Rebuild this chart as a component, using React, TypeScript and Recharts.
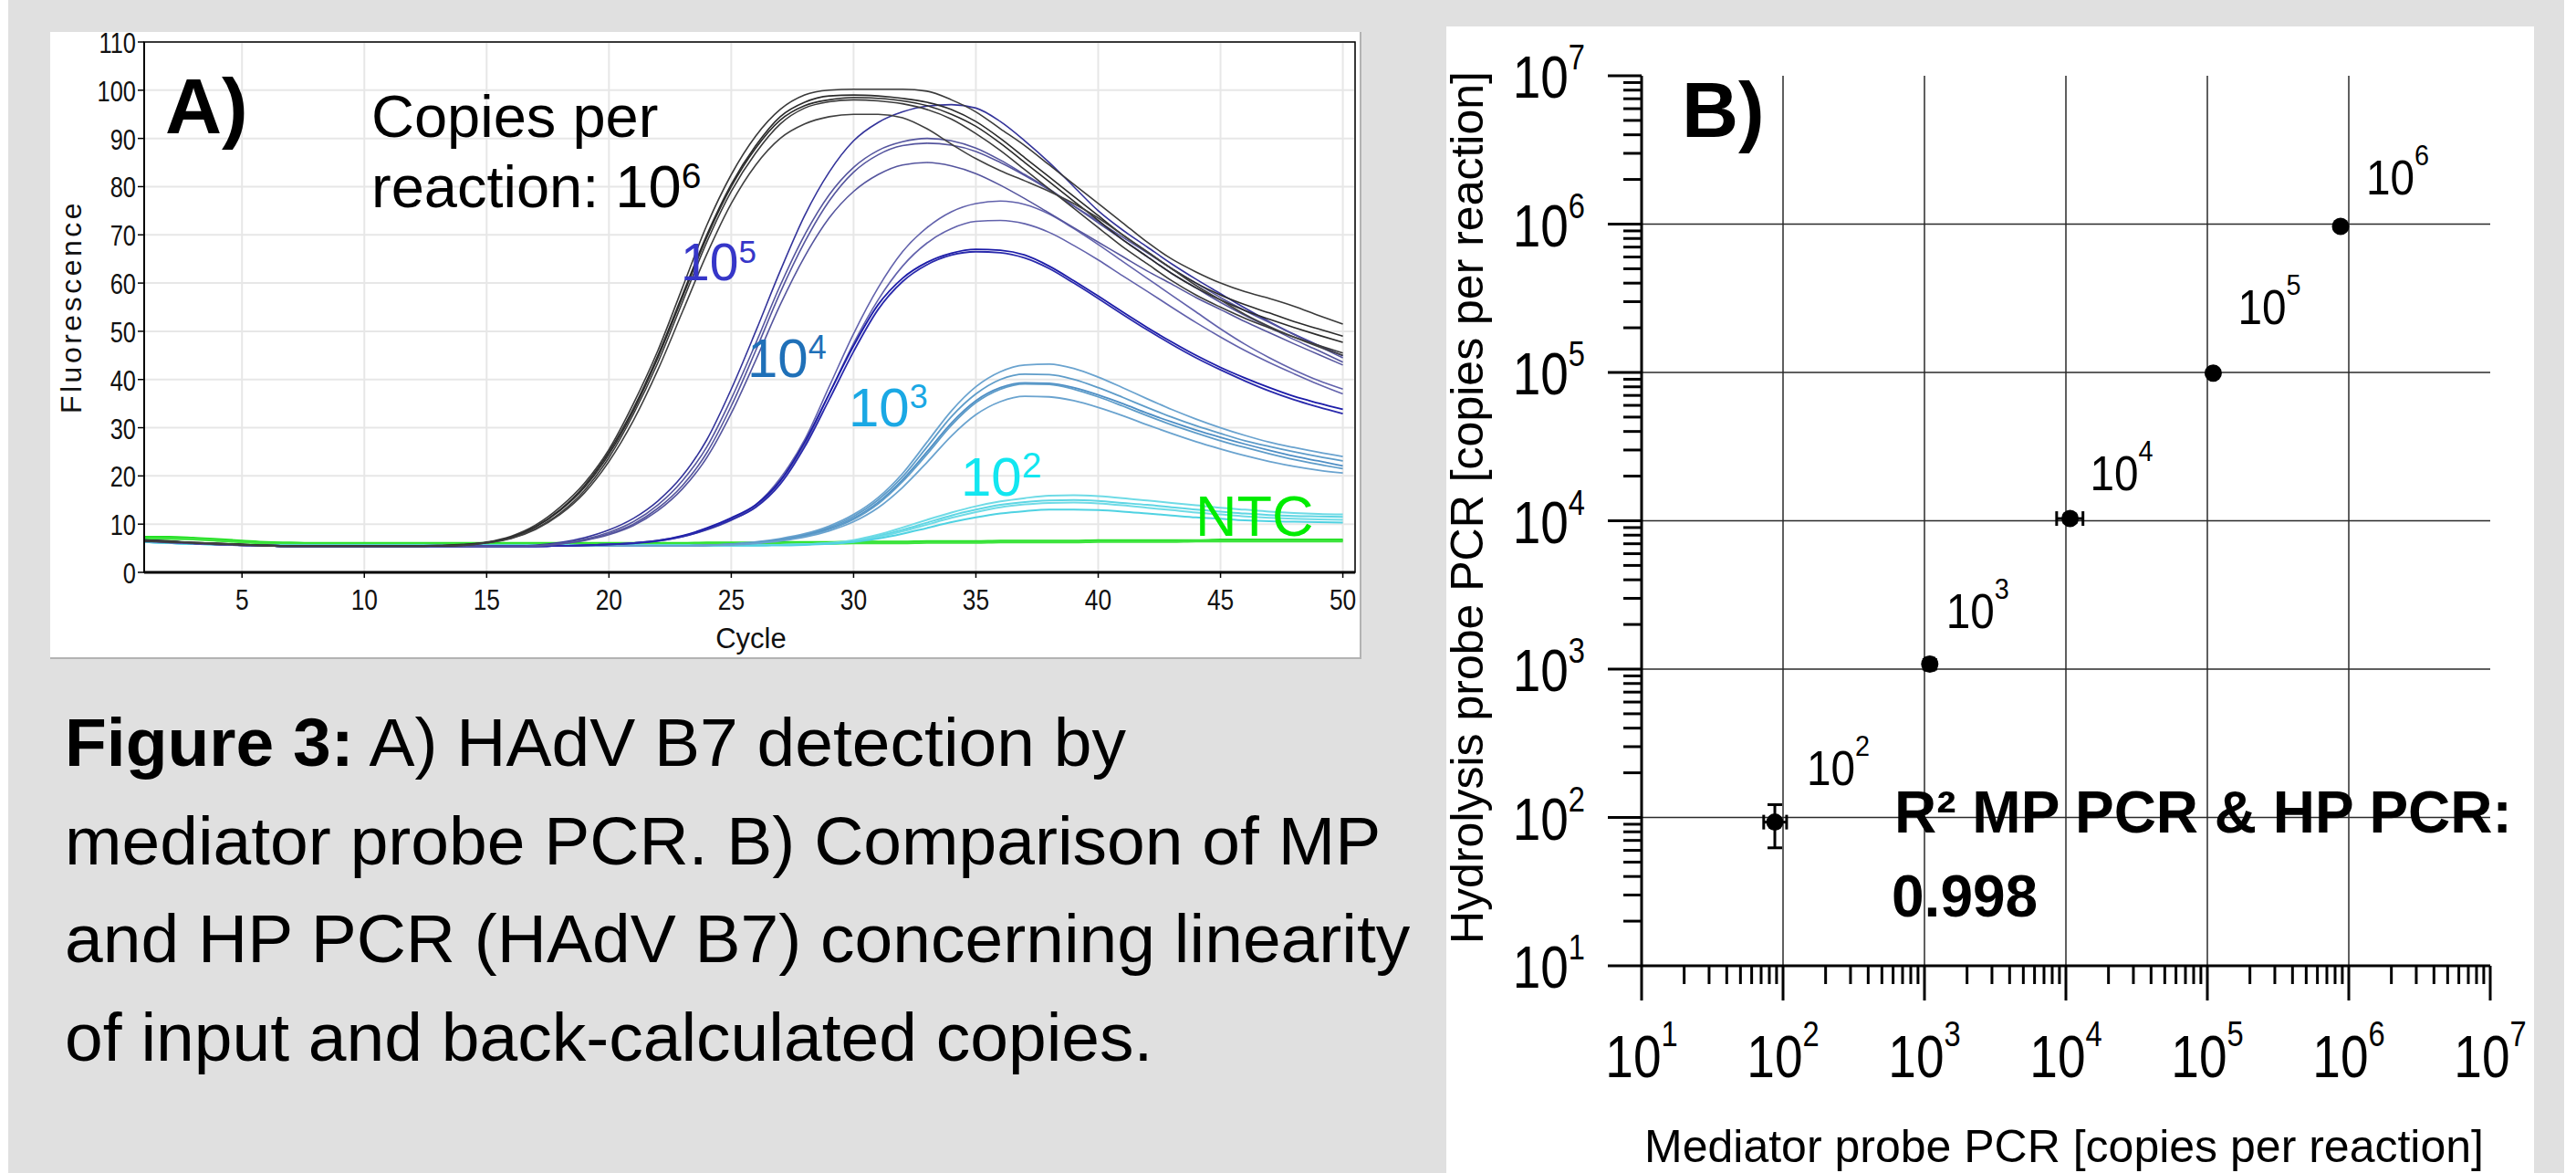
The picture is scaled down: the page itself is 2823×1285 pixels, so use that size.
import React from "react";
import {
  LineChart,
  Line,
  XAxis,
  YAxis,
  CartesianGrid,
  ReferenceArea,
  ScatterChart,
  Scatter,
  ErrorBar,
  ReferenceLine,
} from "recharts";

const FONT = "'Liberation Sans', Arial, Helvetica, sans-serif";

// #region Panel A – amplification curves (fluorescence per cycle)
const cycles = [
  1, 2, 3, 4, 5, 6, 7, 8, 9, 10, 11, 12, 13, 14, 15, 16, 17, 18, 19, 20, 21, 22, 23, 24, 25,
  26, 27, 28, 29, 30, 31, 32, 33, 34, 35, 36, 37, 38, 39, 40, 41, 42, 43, 44, 45, 46, 47, 48,
  49, 50,
];
const cycleTicks = [5, 10, 15, 20, 25, 30, 35, 40, 45, 50];
const fluoTicks = [0, 10, 20, 30, 40, 50, 60, 70, 80, 90, 100, 110];

// 10^6 copies
const e6a = [6.6, 6.4, 6.2, 6.0, 5.8, 5.6, 5.5, 5.5, 5.5, 5.5, 5.5, 5.5, 5.6, 5.8, 6.3, 7.5, 9.8, 13.5, 18.5, 25.5, 35, 46, 59, 72, 82.5, 90.5, 96, 99, 100, 100.2, 100.2, 100.2, 99.8, 98, 95.5, 92, 88.5, 84.5, 80.5, 76.5, 72.5, 68.5, 65, 62.3, 60, 58.2, 56.8, 55.2, 53.3, 51.5];
const e6b = [6.5, 6.3, 6.1, 5.9, 5.7, 5.5, 5.4, 5.4, 5.4, 5.4, 5.4, 5.4, 5.5, 5.7, 6.2, 7.3, 9.5, 13, 18, 25, 34, 45, 57.5, 70, 80.5, 88.5, 94.5, 97.5, 98.8, 99, 98.8, 98.3, 97.5, 96, 93.5, 90, 86, 82, 78, 74, 70, 66.5, 63, 60, 57.5, 55.5, 53.8, 52, 50.5, 49];
const e6c = [6.7, 6.5, 6.2, 6.0, 5.8, 5.6, 5.5, 5.5, 5.5, 5.5, 5.5, 5.5, 5.5, 5.7, 6.2, 7.3, 9.4, 12.8, 17.6, 24.5, 33.5, 44.5, 57, 69.5, 80, 88, 93.8, 96.8, 98, 98.5, 98.3, 97.8, 96.8, 95, 92.5, 89, 85, 81, 77, 73, 69, 65.5, 62, 59, 56.5, 54.3, 52.5, 50.8, 49.2, 47.7];
const e6d = [6.6, 6.4, 6.2, 6.0, 5.8, 5.6, 5.5, 5.5, 5.5, 5.5, 5.5, 5.5, 5.5, 5.6, 6.1, 7.1, 9.1, 12.3, 17, 23.8, 32.8, 43.5, 56, 68.5, 79, 87, 93, 96.3, 97.6, 98, 97.8, 97.2, 96, 94, 91, 87.5, 83.5, 79.5, 75.5, 71.5, 67.5, 64, 60.5, 57.5, 55, 52.7, 50.7, 48.8, 47.1, 45.5];
const e6e = [6.5, 6.3, 6.1, 5.9, 5.7, 5.5, 5.4, 5.4, 5.4, 5.4, 5.4, 5.4, 5.5, 5.6, 6.1, 7, 8.9, 12, 16.5, 23, 31.5, 42, 54, 66, 76.5, 84.5, 90, 93, 94.5, 95, 95, 94.3, 92, 88.8, 85.8, 83.3, 81.2, 79, 76.5, 73.5, 70, 66.5, 63, 59.5, 56.5, 53.5, 51, 48.8, 46.8, 45];

// 10^5 copies
const e5a = [6.7, 6.4, 6.1, 5.9, 5.7, 5.5, 5.4, 5.4, 5.4, 5.4, 5.4, 5.4, 5.4, 5.4, 5.4, 5.4, 5.6, 6.2, 7.2, 8.8, 11.2, 14.8, 20, 27.5, 38, 50, 62.5, 74, 83, 89.5, 93.3, 95.5, 96.7, 97, 96.3, 93.5, 89.5, 85, 80, 75, 71, 67.5, 64, 60.8, 57.8, 54.8, 52, 49.4, 47.1, 44.9];
const e5b = [6.6, 6.3, 6.0, 5.8, 5.6, 5.5, 5.4, 5.4, 5.4, 5.4, 5.4, 5.4, 5.4, 5.4, 5.4, 5.4, 5.5, 6, 6.9, 8.3, 10.5, 14, 19, 26, 36, 47.5, 59.5, 70, 78.3, 84, 87.5, 89.3, 90, 89.5, 88, 85.5, 82.5, 79.5, 76, 72.5, 69, 65.5, 62, 59, 56, 53.3, 50.8, 48.3, 46, 43.6];
const e5c = [6.5, 6.2, 6.0, 5.8, 5.6, 5.5, 5.4, 5.4, 5.4, 5.4, 5.4, 5.4, 5.4, 5.4, 5.4, 5.4, 5.5, 5.9, 6.7, 8, 10, 13.3, 18, 24.8, 34.5, 46, 58, 68.5, 77, 83, 86.6, 88.5, 89, 88.6, 87.3, 85, 82.3, 79.3, 76, 72.8, 69.5, 66.3, 63, 60, 57, 54.3, 51.8, 49.3, 46.9, 44.5];
const e5d = [6.6, 6.3, 6.1, 5.9, 5.7, 5.5, 5.4, 5.4, 5.4, 5.4, 5.4, 5.4, 5.4, 5.4, 5.4, 5.4, 5.5, 5.9, 6.6, 7.8, 9.7, 12.8, 17.3, 23.8, 33, 44, 55.5, 65.5, 73.5, 79, 82.5, 84.5, 85, 84.3, 82.7, 80.3, 77.5, 74.5, 71.5, 68.5, 65.5, 62.5, 59.8, 57, 54.5, 52, 49.7, 47.4, 45.2, 43];

// 10^4 copies
const e4a = [6.6, 6.3, 6.0, 5.8, 5.6, 5.5, 5.4, 5.4, 5.4, 5.4, 5.4, 5.4, 5.4, 5.4, 5.4, 5.4, 5.4, 5.5, 5.6, 5.8, 6.1, 6.6, 7.5, 9, 11, 14, 19.5, 27.5, 38.5, 49.5, 59, 66.5, 71.5, 74.8, 76.5, 77, 76.3, 74.3, 71.3, 68, 64.5, 61, 57.5, 54, 50.5, 47.3, 44.5, 42, 39.8, 38];
const e4b = [6.5, 6.2, 6.0, 5.8, 5.6, 5.5, 5.4, 5.4, 5.4, 5.4, 5.4, 5.4, 5.4, 5.4, 5.4, 5.4, 5.4, 5.5, 5.6, 5.8, 6.1, 6.5, 7.4, 8.8, 10.8, 13.6, 18.8, 26.5, 37, 47.5, 56.5, 63.5, 68.3, 71.3, 72.8, 73, 72.3, 70.5, 67.8, 64.8, 61.5, 58.3, 55, 51.8, 48.8, 46, 43.5, 41.2, 39, 37];
const e4c = [6.7, 6.4, 6.1, 5.9, 5.7, 5.5, 5.4, 5.4, 5.4, 5.4, 5.4, 5.4, 5.4, 5.4, 5.4, 5.4, 5.4, 5.5, 5.6, 5.8, 6.1, 6.6, 7.6, 9.2, 11.3, 14, 19, 27, 37, 47, 55.5, 61, 64.3, 66.2, 67, 66.8, 65.8, 63.5, 60.5, 57.3, 54, 50.8, 47.8, 45, 42.5, 40.3, 38.3, 36.5, 35.1, 33.8];
const e4d = [6.6, 6.3, 6.0, 5.8, 5.6, 5.5, 5.4, 5.4, 5.4, 5.4, 5.4, 5.4, 5.4, 5.4, 5.4, 5.4, 5.4, 5.5, 5.6, 5.8, 6.0, 6.5, 7.4, 8.9, 10.9, 13.5, 18.3, 26, 35.8, 45.8, 54.5, 60.3, 63.8, 65.8, 66.5, 66.3, 65.2, 63, 60, 56.8, 53.5, 50.3, 47.3, 44.5, 42, 39.7, 37.6, 35.8, 34.3, 32.9];

// 10^3 copies
const e3a = [6.5, 6.3, 6.1, 5.9, 5.7, 5.6, 5.5, 5.5, 5.5, 5.5, 5.5, 5.5, 5.5, 5.5, 5.5, 5.5, 5.5, 5.5, 5.5, 5.5, 5.5, 5.5, 5.5, 5.6, 5.9, 6.3, 7, 8, 9.6, 12, 15.5, 20.5, 27, 33.5, 38.5, 41.6, 43, 43.2, 42.3, 40.5, 38.3, 36, 33.8, 31.8, 30, 28.4, 27, 25.9, 24.9, 24];
const e3b = [6.5, 6.3, 6.1, 5.9, 5.7, 5.6, 5.5, 5.5, 5.5, 5.5, 5.5, 5.5, 5.5, 5.5, 5.5, 5.5, 5.5, 5.5, 5.5, 5.5, 5.5, 5.5, 5.5, 5.6, 5.8, 6.2, 6.8, 7.8, 9.3, 11.6, 15, 19.8, 26, 32.3, 37, 40, 41.1, 41, 40, 38.3, 36.3, 34.2, 32.2, 30.4, 28.8, 27.3, 26.1, 25, 24, 23.1];
const e3c = [6.4, 6.2, 6.0, 5.8, 5.7, 5.6, 5.5, 5.5, 5.5, 5.5, 5.5, 5.5, 5.5, 5.5, 5.5, 5.5, 5.5, 5.5, 5.5, 5.5, 5.5, 5.5, 5.5, 5.6, 5.8, 6.1, 6.7, 7.6, 9, 11.2, 14.5, 19.2, 25, 31, 35.6, 38.3, 39.3, 39.2, 38.3, 36.8, 35, 33, 31.2, 29.5, 28, 26.6, 25.3, 24.1, 23.1, 22.1];
const e3d = [6.4, 6.2, 6.0, 5.8, 5.7, 5.6, 5.5, 5.5, 5.5, 5.5, 5.5, 5.5, 5.5, 5.5, 5.5, 5.5, 5.5, 5.5, 5.5, 5.5, 5.5, 5.5, 5.5, 5.6, 5.8, 6.1, 6.6, 7.5, 8.9, 11, 14.2, 18.8, 24.5, 30.5, 35.2, 38, 39.1, 39, 38, 36.4, 34.5, 32.5, 30.6, 28.9, 27.3, 25.9, 24.6, 23.4, 22.4, 21.5];
const e3e = [6.4, 6.2, 6.0, 5.8, 5.7, 5.6, 5.5, 5.5, 5.5, 5.5, 5.5, 5.5, 5.5, 5.5, 5.5, 5.5, 5.5, 5.5, 5.5, 5.5, 5.5, 5.5, 5.5, 5.6, 5.7, 6, 6.5, 7.3, 8.6, 10.5, 13.4, 17.6, 22.8, 28.3, 32.7, 35.4, 36.5, 36.4, 35.6, 34.2, 32.5, 30.6, 28.8, 27.1, 25.6, 24.2, 23, 22, 21.2, 20.6];

// 10^2 copies
const e2a = [6.3, 6.1, 5.9, 5.8, 5.7, 5.6, 5.6, 5.6, 5.6, 5.6, 5.6, 5.6, 5.6, 5.6, 5.6, 5.6, 5.6, 5.6, 5.6, 5.6, 5.6, 5.6, 5.6, 5.6, 5.6, 5.6, 5.7, 5.8, 6.1, 6.7, 7.8, 9.3, 10.9, 12.4, 13.7, 14.7, 15.4, 15.9, 16, 15.8, 15.4, 14.9, 14.4, 13.9, 13.4, 13, 12.6, 12.3, 12.1, 12];
const e2b = [6.3, 6.1, 5.9, 5.8, 5.7, 5.6, 5.6, 5.6, 5.6, 5.6, 5.6, 5.6, 5.6, 5.6, 5.6, 5.6, 5.6, 5.6, 5.6, 5.6, 5.6, 5.6, 5.6, 5.6, 5.6, 5.6, 5.7, 5.8, 6.0, 6.5, 7.5, 8.8, 10.3, 11.8, 13, 14, 14.6, 14.9, 15, 14.8, 14.4, 14, 13.5, 13, 12.6, 12.2, 11.9, 11.7, 11.6, 11.5];
const e2c = [6.3, 6.1, 5.9, 5.8, 5.7, 5.6, 5.6, 5.6, 5.6, 5.6, 5.6, 5.6, 5.6, 5.6, 5.6, 5.6, 5.6, 5.6, 5.6, 5.6, 5.6, 5.6, 5.6, 5.6, 5.6, 5.6, 5.7, 5.8, 6.0, 6.4, 7.3, 8.5, 9.9, 11.3, 12.5, 13.5, 14.1, 14.4, 14.5, 14.3, 13.9, 13.4, 12.9, 12.4, 12, 11.6, 11.3, 11.1, 11, 10.9];
const e2d = [6.3, 6.1, 5.9, 5.8, 5.7, 5.6, 5.6, 5.6, 5.6, 5.6, 5.6, 5.6, 5.6, 5.6, 5.6, 5.6, 5.6, 5.6, 5.6, 5.6, 5.6, 5.6, 5.6, 5.6, 5.6, 5.6, 5.6, 5.7, 5.9, 6.3, 7, 8, 9.2, 10.4, 11.4, 12.2, 12.7, 13, 13, 12.9, 12.6, 12.2, 11.8, 11.4, 11.1, 10.8, 10.6, 10.5, 10.4, 10.3];

// no template control
const ntcA = [7.3, 7.3, 7.1, 6.8, 6.5, 6.2, 6.1, 6.0, 6.0, 6.0, 6.0, 6.0, 6.0, 6.0, 6.0, 6.0, 6.0, 6.0, 6.0, 6.0, 6.0, 6.0, 6.0, 6.1, 6.1, 6.1, 6.2, 6.2, 6.2, 6.3, 6.3, 6.3, 6.4, 6.4, 6.4, 6.5, 6.5, 6.5, 6.5, 6.6, 6.6, 6.6, 6.6, 6.6, 6.7, 6.7, 6.7, 6.7, 6.7, 6.7];
const ntcB = [7.0, 7.0, 6.9, 6.6, 6.3, 6.0, 5.9, 5.8, 5.8, 5.8, 5.8, 5.8, 5.8, 5.8, 5.8, 5.8, 5.8, 5.8, 5.8, 5.8, 5.8, 5.8, 5.8, 5.9, 5.9, 5.9, 6.0, 6.0, 6.0, 6.1, 6.1, 6.1, 6.2, 6.2, 6.2, 6.3, 6.3, 6.3, 6.3, 6.4, 6.4, 6.4, 6.4, 6.5, 6.5, 6.5, 6.5, 6.5, 6.5, 6.5];
// #endregion

const curvesA = [
  { id: "ntcA", values: ntcA, color: "#1ee01e", width: 3 },
  { id: "ntcB", values: ntcB, color: "#3fe43f", width: 3 },
  { id: "e2a", values: e2a, color: "#6fdbe6", width: 2 },
  { id: "e2b", values: e2b, color: "#5fd6e4", width: 2 },
  { id: "e2c", values: e2c, color: "#6fdbe6", width: 2 },
  { id: "e2d", values: e2d, color: "#4fd2e2", width: 2 },
  { id: "e3a", values: e3a, color: "#6aa3cf", width: 1.8 },
  { id: "e3b", values: e3b, color: "#5e9cc9", width: 1.8 },
  { id: "e3c", values: e3c, color: "#4f8fc5", width: 1.8 },
  { id: "e3d", values: e3d, color: "#5e9cc9", width: 1.8 },
  { id: "e3e", values: e3e, color: "#6aa3cf", width: 1.8 },
  { id: "e4a", values: e4a, color: "#6262ac", width: 1.6 },
  { id: "e4b", values: e4b, color: "#6262ac", width: 1.6 },
  { id: "e4c", values: e4c, color: "#1c1ca8", width: 1.8 },
  { id: "e4d", values: e4d, color: "#2a2aac", width: 1.8 },
  { id: "e5a", values: e5a, color: "#33339a", width: 1.6 },
  { id: "e5b", values: e5b, color: "#55559e", width: 1.6 },
  { id: "e5c", values: e5c, color: "#55559e", width: 1.6 },
  { id: "e5d", values: e5d, color: "#55559e", width: 1.6 },
  { id: "e6a", values: e6a, color: "#3a3a3a", width: 1.6 },
  { id: "e6b", values: e6b, color: "#2b2b2b", width: 1.6 },
  { id: "e6c", values: e6c, color: "#2b2b2b", width: 1.6 },
  { id: "e6d", values: e6d, color: "#3a3a3a", width: 1.6 },
  { id: "e6e", values: e6e, color: "#404040", width: 1.6 },
];

const toPoints = (vals: number[]) => cycles.map((c, i) => ({ c, v: vals[i] }));

// #region Panel B – MP PCR vs HP PCR (copies per reaction)
const expectedExp = ["2", "3", "4", "5", "6"];
const mpCopies = [87.5, 1090, 10700, 110000, 875000];
const hpCopies = [93, 1080, 10350, 99000, 966000];
const mpErr = [[14.5, 18.5], [80, 80], [2100, 2500], [5000, 5000], [45000, 45000]];
const hpErr = [[30.6, 29], [80, 80], [600, 600], [4000, 4000], [50000, 50000]];
const bMajorTicks = [10, 100, 1000, 10000, 100000, 1000000, 10000000];
const bGridValues = [100, 1000, 10000, 100000, 1000000];
// #endregion

const bMinorTicks = bMajorTicks.slice(0, -1).flatMap((d) => [2, 3, 4, 5, 6, 7, 8, 9].map((k) => d * k));
const bAllTicks = [...bMajorTicks, ...bMinorTicks].sort((a, b) => a - b);
const bData = expectedExp.map((exp, i) => ({
  exp,
  mp: mpCopies[i],
  hp: hpCopies[i],
  mpErr: mpErr[i],
  hpErr: hpErr[i],
}));

// label offsets (px) from each point
const bLabelOffset: Record<string, [number, number]> = {
  "2": [35, -41],
  "3": [18, -40],
  "4": [22, -31],
  "5": [27, -54],
  "6": [28, -35],
};

// chart A is drawn a little taller than its white box so no tick text touches the svg edge
const A_LIFT = 24;
// overlay of panel B reaches a little left of its box for the rotated title
const B_SHIFT = 30;

const ATickX = (p: any) => (
  <text
    transform={`translate(${p.x},${p.y + 35}) scale(0.85,1)`}
    textAnchor='middle'
    fontSize={31}
    fontFamily={FONT}
    fill='#111'
  >
    {p.payload.value}
  </text>
);

const ATickY = (p: any) => (
  <text
    transform={`translate(${p.x - 2},${p.y + 12}) scale(0.82,1)`}
    textAnchor='end'
    fontSize={31}
    fontFamily={FONT}
    fill='#111'
  >
    {p.payload.value}
  </text>
);

const expOf = (v: number) => String(Math.round(Math.log10(v)));

const BTickX = (p: any) => {
  const v = p.payload.value;
  const major = bMajorTicks.includes(v);
  return (
    <g>
      <line x1={p.x} x2={p.x} y1={p.y} y2={p.y + (major ? 38 : 20)} stroke='#000' strokeWidth={3} />
      {major && (
        <text
          transform={`translate(${p.x},${p.y + 122}) scale(0.86,1)`}
          textAnchor='middle'
          fontSize={64}
          fontFamily={FONT}
          fill='#000'
        >
          10
          <tspan dy={-34} fontSize={38}>
            {expOf(v)}
          </tspan>
        </text>
      )}
    </g>
  );
};

const BTickY = (p: any) => {
  const v = p.payload.value;
  const major = bMajorTicks.includes(v);
  return (
    <g>
      <line x1={p.x} x2={p.x - (major ? 37 : 20)} y1={p.y} y2={p.y} stroke='#000' strokeWidth={3} />
      {major && (
        <text
          transform={`translate(${p.x - 62},${p.y + 24}) scale(0.86,1)`}
          textAnchor='end'
          fontSize={64}
          fontFamily={FONT}
          fill='#000'
        >
          10
          <tspan dy={-31} fontSize={38}>
            {expOf(v)}
          </tspan>
        </text>
      )}
    </g>
  );
};

const BPoint = (p: any) => {
  const off = bLabelOffset[p.payload.exp] || [25, -40];
  return (
    <g>
      <circle cx={p.cx} cy={p.cy} r={9.5} fill='#000' />
      <text
        transform={`translate(${p.cx + off[0]},${p.cy + off[1]}) scale(0.9,1)`}
        fontSize={53}
        fontFamily={FONT}
        fill='#000'
      >
        10
        <tspan dy={-32} fontSize={32}>
          {p.payload.exp}
        </tspan>
      </text>
    </g>
  );
};

const SupLabel = ({ x, y, color, size, supSize, supDy, exp }: any) => (
  <text x={x} y={y} fill={color} fontSize={size} fontFamily={FONT}>
    10
    <tspan dy={supDy} fontSize={supSize}>
      {exp}
    </tspan>
  </text>
);

const PanelA = () => (
  <div
    style={{
      position: "absolute",
      left: 55,
      top: 35,
      width: 1435,
      height: 685,
      background: "#fff",
      borderRight: "2px solid #b3b3b3",
      borderBottom: "2px solid #b3b3b3",
    }}
  >
    <div style={{ position: "absolute", left: 0, top: -A_LIFT }}>
      <LineChart
        width={1435}
        height={685 + A_LIFT}
        margin={{ top: 11 + A_LIFT, right: 5, left: 0, bottom: 0 }}
      >
        <CartesianGrid stroke='#e7e7e7' strokeWidth={2} />
        <XAxis
          type='number'
          dataKey='c'
          domain={[1, 50.5]}
          ticks={cycleTicks}
          interval={0}
          height={93}
          tickSize={6}
          tickMargin={0}
          tick={<ATickX />}
          axisLine={{ stroke: "#000", strokeWidth: 3 }}
          tickLine={{ stroke: "#000", strokeWidth: 1.5 }}
          allowDataOverflow
        />
        <YAxis
          type='number'
          dataKey='v'
          domain={[0, 110]}
          ticks={fluoTicks}
          interval={0}
          width={103}
          tickSize={7}
          tickMargin={0}
          tick={<ATickY />}
          axisLine={{ stroke: "#000", strokeWidth: 2 }}
          tickLine={{ stroke: "#000", strokeWidth: 1.5 }}
          allowDataOverflow
        />
        <ReferenceArea x1={1} x2={50.5} y1={0} y2={110} fill='none' stroke='#000' strokeWidth={1.5} />
        {curvesA.map((s) => (
          <Line
            key={s.id}
            data={toPoints(s.values)}
            dataKey='v'
            type='monotone'
            stroke={s.color}
            strokeWidth={s.width}
            dot={false}
            activeDot={false}
            isAnimationActive={false}
          />
        ))}
      </LineChart>
    </div>
    <svg
      width={1435}
      height={685}
      style={{ position: "absolute", left: 0, top: 0, pointerEvents: "none" }}
    >
      <text x={126} y={111} fontSize={86} fontWeight='bold' fontFamily={FONT} fill='#000'>
        A)
      </text>
      <text x={352} y={115} fontSize={65} fontFamily={FONT} fill='#000'>
        Copies per
      </text>
      <text x={352} y={192} fontSize={65} fontFamily={FONT} fill='#000'>
        reaction: 10
        <tspan dy={-21} fontSize={39}>
          6
        </tspan>
      </text>
      <SupLabel x={691} y={272} color='#3636c8' size={57} supSize={35} supDy={-19} exp='5' />
      <SupLabel x={764} y={378} color='#1f70b8' size={60} supSize={36} supDy={-20} exp='4' />
      <SupLabel x={875} y={432} color='#1aa8e4' size={60} supSize={36} supDy={-20} exp='3' />
      <SupLabel x={998} y={508} color='#12e6f0' size={60} supSize={39} supDy={-20} exp='2' />
      <text x={1255} y={552} fontSize={63} fontFamily={FONT} fill='#00ec00'>
        NTC
      </text>
      <text
        transform='translate(34,301) rotate(-90)'
        textAnchor='middle'
        fontSize={32}
        letterSpacing={3.5}
        fontFamily={FONT}
        fill='#111'
      >
        Fluorescence
      </text>
      <text x={768} y={675} textAnchor='middle' fontSize={31} fontFamily={FONT} fill='#111'>
        Cycle
      </text>
    </svg>
  </div>
);

const PanelB = () => (
  <div
    style={{
      position: "absolute",
      left: 1585,
      top: 29,
      width: 1192,
      height: 1256,
      background: "#fff",
    }}
  >
    <ScatterChart width={1192} height={1256} margin={{ top: 54, right: 48, left: 0, bottom: 0 }}>
      <XAxis
        type='number'
        dataKey='mp'
        scale='log'
        domain={[10, 10000000]}
        ticks={bAllTicks}
        interval={0}
        height={227}
        tickSize={0}
        tickMargin={0}
        tickLine={false}
        tick={<BTickX />}
        axisLine={{ stroke: "#000", strokeWidth: 3 }}
        allowDataOverflow
      />
      <YAxis
        type='number'
        dataKey='hp'
        scale='log'
        domain={[10, 10000000]}
        ticks={bAllTicks}
        interval={0}
        width={214}
        tickSize={0}
        tickMargin={0}
        tickLine={false}
        tick={<BTickY />}
        axisLine={{ stroke: "#000", strokeWidth: 3 }}
        allowDataOverflow
      />
      {bGridValues.map((v) => (
        <ReferenceLine key={`gx${v}`} x={v} stroke='#2a2a2a' strokeWidth={1.5} />
      ))}
      {bGridValues.map((v) => (
        <ReferenceLine key={`gy${v}`} y={v} stroke='#2a2a2a' strokeWidth={1.5} />
      ))}
      <Scatter data={bData} dataKey='hp' shape={<BPoint />} isAnimationActive={false}>
        <ErrorBar dataKey='hpErr' direction='y' width={8} stroke='#000' strokeWidth={3} />
        <ErrorBar dataKey='mpErr' direction='x' width={8} stroke='#000' strokeWidth={3} />
      </Scatter>
    </ScatterChart>
    <svg
      width={1192 + B_SHIFT}
      height={1256}
      style={{ position: "absolute", left: -B_SHIFT, top: 0, pointerEvents: "none" }}
    >
      <g transform={`translate(${B_SHIFT},0)`}>
        <text x={258} y={121} fontSize={86} fontWeight='bold' fontFamily={FONT} fill='#000'>
          B)
        </text>
        <text x={491} y={883} fontSize={64} fontWeight='bold' fontFamily={FONT} fill='#000'>
          R² MP PCR &amp; HP PCR:
        </text>
        <text x={488} y={975} fontSize={64} fontWeight='bold' fontFamily={FONT} fill='#000'>
          0.998
        </text>
        <text
          transform='translate(40,527) rotate(-90)'
          textAnchor='middle'
          fontSize={50}
          fontFamily={FONT}
          fill='#000'
        >
          Hydrolysis probe PCR [copies per reaction]
        </text>
        <text x={677} y={1244} textAnchor='middle' fontSize={50} fontFamily={FONT} fill='#000'>
          Mediator probe PCR [copies per reaction]
        </text>
      </g>
    </svg>
  </div>
);

const Caption = () => (
  <div
    style={{
      position: "absolute",
      left: 71,
      top: 760,
      fontFamily: FONT,
      fontSize: 75,
      lineHeight: "107.6px",
      color: "#000",
      whiteSpace: "nowrap",
    }}
  >
    <div>
      <b>Figure 3:</b> A) HAdV B7 detection by
    </div>
    <div>mediator probe PCR. B) Comparison of MP</div>
    <div>and HP PCR (HAdV B7) concerning linearity</div>
    <div>of input and back-calculated copies.</div>
  </div>
);

const App = () => {
  return (
    <div
      style={{
        position: "absolute",
        left: 0,
        top: 0,
        width: 2823,
        height: 1285,
        overflow: "hidden",
        background: "#fff",
        fontFamily: FONT,
      }}
    >
      <div
        style={{
          position: "absolute",
          left: 9,
          top: 0,
          width: 2801,
          height: 1285,
          background: "#e0e0e0",
        }}
      />
      <PanelA />
      <Caption />
      <PanelB />
    </div>
  );
};

export default App;
